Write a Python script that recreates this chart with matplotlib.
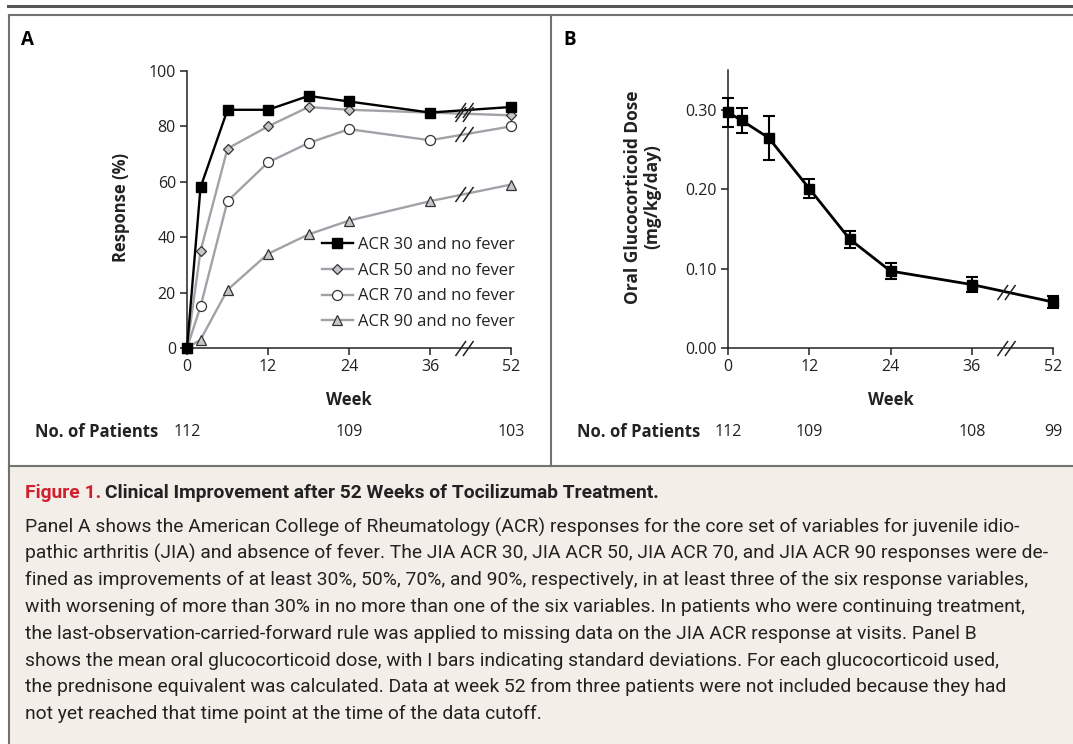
import matplotlib
matplotlib.use("Agg")
import matplotlib.pyplot as plt
import matplotlib.transforms as mtransforms
from matplotlib.path import Path
import numpy as np

# data
weeks = np.array([0, 2, 6, 12, 18, 24, 36, 52])
acr30 = [0, 58, 86, 86, 91, 89, 85, 87]
acr50 = [0, 35, 72, 80, 87, 86, 85, 84]
acr70 = [0, 15, 53, 67, 74, 79, 75, 80]
acr90 = [0, 3, 21, 34, 41, 46, 53, 59]

dose = [0.297, 0.287, 0.265, 0.201, 0.137, 0.097, 0.080, 0.058]
dose_sd = [0.018, 0.016, 0.028, 0.012, 0.011, 0.010, 0.010, 0.008]

tick_weeks = [0, 12, 24, 36, 52]
patients_a_weeks = [0, 24, 52]
patients_a = ["112", "109", "103"]
patients_b_weeks = [0, 12, 36, 52]
patients_b = ["112", "109", "108", "99"]

caption_title = "Clinical Improvement after 52 Weeks of Tocilizumab Treatment."
caption_lines = [
    "Panel A shows the American College of Rheumatology (ACR) responses for the core set of variables for juvenile idio-",
    "pathic arthritis (JIA) and absence of fever. The JIA ACR 30, JIA ACR 50, JIA ACR 70, and JIA ACR 90 responses were de-",
    "fined as improvements of at least 30%, 50%, 70%, and 90%, respectively, in at least three of the six response variables,",
    "with worsening of more than 30% in no more than one of the six variables. In patients who were continuing treatment,",
    "the last-observation-carried-forward rule was applied to missing data on the JIA ACR response at visits. Panel B",
    "shows the mean oral glucocorticoid dose, with I bars indicating standard deviations. For each glucocorticoid used,",
    "the prednisone equivalent was calculated. Data at week 52 from three patients were not included because they had",
    "not yet reached that time point at the time of the data cutoff.",
]

FONT = "Open Sans"
CAPFONT = ["Roboto", "DejaVu Sans"]
CAPSIZE = 13.9
BREAK_W = 41  # axis position of the // marks
INK = "#222222"


def to_pos(w):
    # week 36 -> 52 squeezed to one 12-week step after the axis break
    w = np.asarray(w, dtype=float)
    return np.where(w <= 36, w, 36 + (w - 36) * 0.75)


def break_y(vals):
    p = to_pos(weeks)
    return np.interp(BREAK_W, p, vals)


slash = Path([(-1.2, -1.0), (0.2, 1.0), (-0.2, -1.0), (1.2, 1.0)],
             [Path.MOVETO, Path.LINETO, Path.MOVETO, Path.LINETO])

W, H = 1073, 744
fig = plt.figure(figsize=(W / 100, H / 100), dpi=100)

# page frame
bg = fig.add_axes([0, 0, 1, 1], zorder=0)
bg.set_xlim(0, W)
bg.set_ylim(H, 0)
bg.axis("off")
bg.add_patch(plt.Rectangle((9, 466), W - 9, H - 466, color="#f4eee9", lw=0))
bg.plot([8, W], [6, 6], color="#555555", lw=2.2)
bg.plot([9, W], [14.5, 14.5], color="#727272", lw=1.5)
bg.plot([9, 9], [14.5, H], color="#727272", lw=1.5)
bg.plot([551, 551], [14.5, 466], color="#727272", lw=1.5)
bg.plot([9, W], [466, 466], color="#727272", lw=1.5)

bg.text(27, 40, "A", fontsize=13.5, fontweight="bold", family=FONT, ha="center", va="center")
bg.text(570, 40, "B", fontsize=13.5, fontweight="bold", family=FONT, ha="center", va="center")


def px_axes(left, right, top, bottom):
    return fig.add_axes([left / W, 1 - bottom / H, (right - left) / W, (bottom - top) / H], zorder=1)


def style_axes(ax, ytop):
    ax.set_facecolor("none")
    for s in ["top", "right"]:
        ax.spines[s].set_visible(False)
    ax.spines["left"].set_position(("data", 0))
    ax.spines["bottom"].set_position(("data", 0))
    ax.spines["left"].set_bounds(0, ytop)
    ax.spines["bottom"].set_bounds(0, 48)
    for s in ["left", "bottom"]:
        ax.spines[s].set_linewidth(1.1)
        ax.spines[s].set_color(INK)
    ax.set_xticks(to_pos(tick_weeks))
    ax.set_xticklabels([str(t) for t in tick_weeks])
    ax.tick_params(length=5, width=1.1, color=INK, labelsize=11.5, pad=3, labelcolor=INK)
    for lab in ax.get_xticklabels() + ax.get_yticklabels():
        lab.set_family(FONT)
    # break on the x axis
    ax.plot([BREAK_W], [0], marker=slash, ms=13, mew=1.1, color=INK, clip_on=False, zorder=5)


# ---------------- panel A ----------------
axA = px_axes(176.9, 524.5, 62.7, 356.3)
axA.set_xlim(-1.5, 50)
axA.set_ylim(-3, 103)
axA.set_yticks([0, 20, 40, 60, 80, 100])

gray = "#9fa3a7"
edge = "#333333"
pos = to_pos(weeks)
series = [
    ("ACR 30 and no fever", acr30, "black", dict(marker="s", ms=6.8, mfc="black", mec="black")),
    ("ACR 50 and no fever", acr50, gray, dict(marker="D", ms=5.3, mfc="#c4c6c8", mec=edge, mew=0.9)),
    ("ACR 70 and no fever", acr70, gray, dict(marker="o", ms=7.2, mfc="white", mec=edge, mew=0.9)),
    ("ACR 90 and no fever", acr90, gray, dict(marker="^", ms=7.2, mfc="#c4c6c8", mec=edge, mew=0.9)),
]
handles = []
for i, (lab, vals, col, mk) in enumerate(series):
    h, = axA.plot(pos, vals, color=col, lw=1.7, label=lab, clip_on=False, zorder=4 - i, **mk)
    handles.append(h)
    axA.plot([BREAK_W], [break_y(vals)], marker=slash, ms=13, mew=1.1, color=INK,
             clip_on=False, zorder=6)
style_axes(axA, 100)

leg = axA.legend(handles=handles, loc="upper left", bbox_to_anchor=(322, 237),
                 bbox_transform=bg.transData, frameon=False, borderpad=0, borderaxespad=0,
                 handlelength=1.85, handletextpad=0.3, labelspacing=0.58, numpoints=1,
                 prop={"family": FONT, "size": 12})
for t in leg.get_texts():
    t.set_color(INK)

bg.text(121, 208, "Response (%)", rotation=90, fontsize=12, fontweight="bold", family=FONT,
        ha="center", va="center", color=INK)

# ---------------- panel B ----------------
axB = px_axes(717.9, 1066.5, 62.5, 355.9)
axB.set_xlim(-1.5, 50)
axB.set_ylim(-0.01, 0.36)
axB.set_yticks([0, 0.1, 0.2, 0.3])
axB.set_yticklabels(["0.00", "0.10", "0.20", "0.30"])
axB.errorbar(pos, dose, yerr=dose_sd, color="black", lw=2.0, marker="s", ms=7.5,
             elinewidth=1.5, capsize=4, capthick=1.5, clip_on=False, zorder=4)
axB.plot([BREAK_W], [break_y(dose)], marker=slash, ms=13, mew=1.1, color=INK,
         clip_on=False, zorder=6)
style_axes(axB, 0.35)

bg.text(643, 197, "Oral Glucocorticoid Dose\n(mg/kg/day)", rotation=90, fontsize=12.5,
        fontweight="bold", family=FONT, ha="center", va="center", linespacing=1.1, color=INK)

# week labels and patient counts
for ax, cx, who, nums, start in [(axA, 24, patients_a_weeks, patients_a, 35),
                                 (axB, 24, patients_b_weeks, patients_b, 577)]:
    tr = mtransforms.blended_transform_factory(ax.transData, bg.transData)
    ax.text(to_pos(cx), 400, "Week", transform=tr, fontsize=12, fontweight="bold",
            family=FONT, ha="center", va="center", color=INK)
    bg.text(start, 432, "No. of Patients", fontsize=12, fontweight="bold", family=FONT,
            ha="left", va="center", color=INK)
    for w, n in zip(who, nums):
        ax.text(to_pos(w), 432, n, transform=tr, fontsize=11.5, family=FONT,
                ha="center", va="center", color=INK, clip_on=False)

# ---------------- caption ----------------
t1 = bg.text(25, 493, "Figure 1.", fontsize=CAPSIZE, fontweight="bold", family=CAPFONT,
             color="#d0202e", ha="left", va="center")
fig.canvas.draw()
bb = t1.get_window_extent()
x_after = bb.x1 + 4
bg.text(x_after, 493, caption_title, fontsize=CAPSIZE, fontweight="bold", family=CAPFONT,
        color=INK, ha="left", va="center")
for i, line in enumerate(caption_lines):
    bg.text(25, 527 + i * 26.7, line, fontsize=CAPSIZE, family=CAPFONT, color=INK,
            ha="left", va="center")

fig.savefig("out.png", dpi=100)
